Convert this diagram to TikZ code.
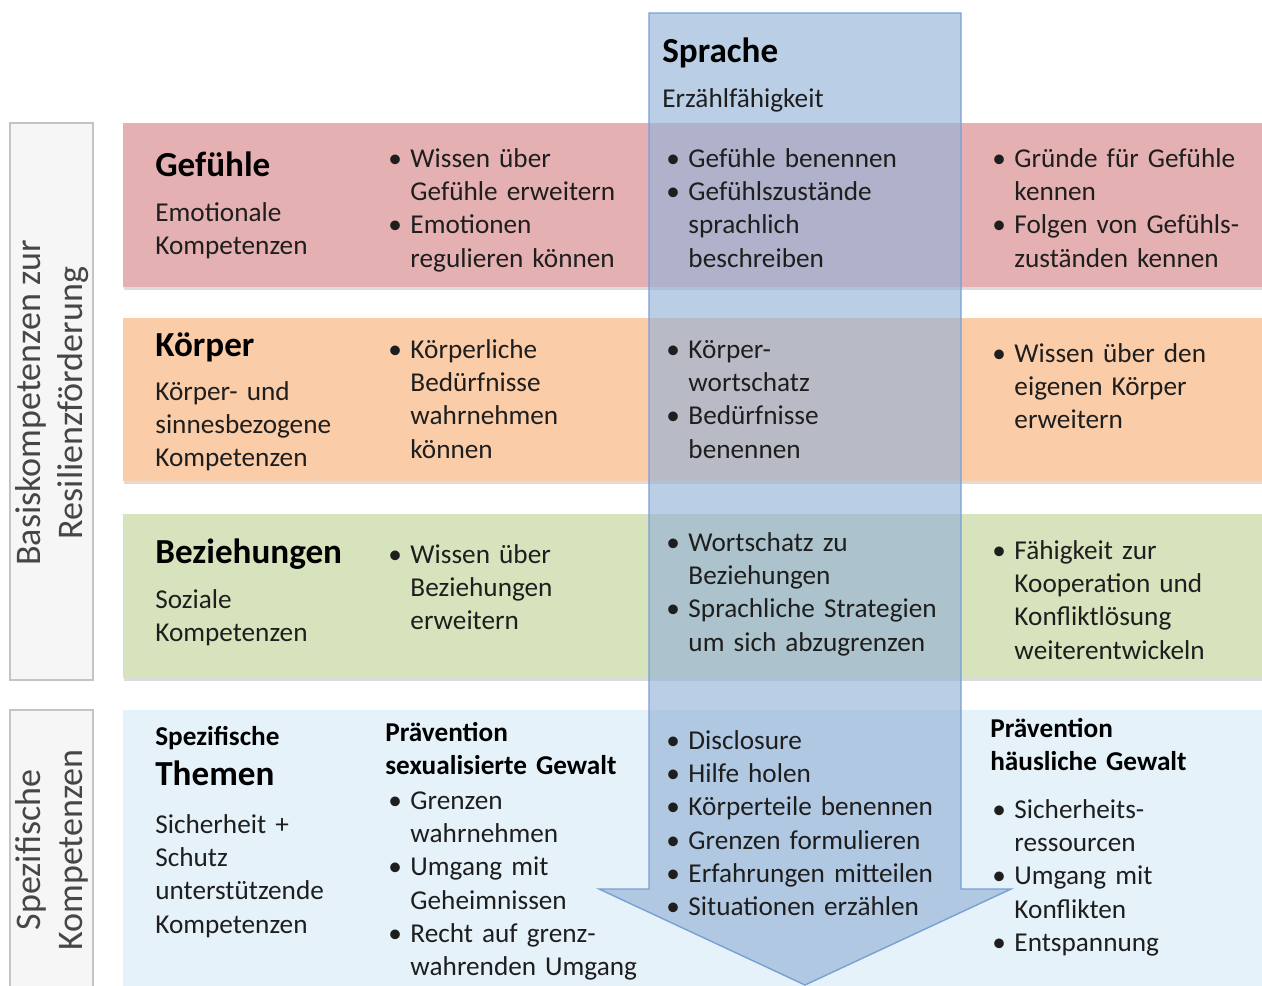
\documentclass[tikz,border=0pt]{standalone}
\usepackage{fontspec}
\setmainfont{Carlito}
\usetikzlibrary{shadows}
\definecolor{rowA}{RGB}{229,176,178}
\definecolor{rowB}{RGB}{250,204,168}
\definecolor{rowC}{RGB}{215,227,188}
\definecolor{rowD}{RGB}{230,242,250}
\definecolor{arrowfill}{RGB}{149,179,215}
\definecolor{arrowline}{RGB}{120,160,212}
\definecolor{labelfill}{RGB}{246,246,246}
\definecolor{labelline}{RGB}{196,196,196}
\definecolor{ink}{RGB}{30,30,30}
\definecolor{labelink}{RGB}{70,70,70}
\newlength\bw
\setlength\bw{12.6pt}
\newcommand\bitem[1]{\leftskip=\bw\noindent\hspace*{-\bw}\makebox[\bw][l]{\textbullet}#1\par}
\tikzset{
  rowbox/.style={draw=none, drop shadow={shadow xshift=0.6pt, shadow yshift=-1.6pt, opacity=0.28}},
  labelbox/.style={fill=labelfill, draw=labelline, line width=0.6pt},
  body/.style={anchor=base west, inner sep=0pt, text=ink, text width=7cm,
    font=\fontsize{15.5}{19}\selectfont},
  head/.style={anchor=base west, inner sep=0pt, text=black,
    font=\fontsize{20}{24}\selectfont\bfseries},
  subhead/.style={anchor=base west, inner sep=0pt, text=black, text width=7cm,
    font=\fontsize{15.5}{19}\selectfont\bfseries},
  vlabel/.style={rotate=90, align=center, inner sep=0pt, text=labelink,
    font=\fontsize{20.5}{24}\selectfont},
}
\begin{document}
\begin{tikzpicture}[x=0.02cm, y=-0.02cm]
\useasboundingbox (0,0) rectangle (1262,985);
% side label boxes
\filldraw[labelbox] (10,123) rectangle (93,680);
\filldraw[labelbox] (10,710) rectangle (93,990);
\node[vlabel] (lab1) at (52,403) {Basiskompetenzen zur\\Resilienzförderung};
\node[vlabel] (lab2) at (52,850) {Spezifische\\Kompetenzen};
% rows
\fill[rowA, rowbox] (123,123) rectangle (1262,287);
\fill[rowB, rowbox] (123,318) rectangle (1262,481);
\fill[rowC, rowbox] (123,514) rectangle (1262,678);
\fill[rowD] (123,710) rectangle (1262,990);
% arrow
\filldraw[fill=arrowfill, fill opacity=0.65, draw=arrowline, line width=0.8pt]
  (649,13) -- (961,13) -- (961,889) -- (1011,889) -- (805,985) -- (599,889) -- (649,889) -- cycle;
% Sprache
\node[head] (sprache) at (662,62) {Sprache};
\node[body] (erz) at (662,107) {Erzählfähigkeit};
% Row 1
\node[head] (gef) at (155,176) {Gefühle};
\node[body] (gefsub) at (155,221) {Emotionale\\Kompetenzen};
\node[body] (gef2) at (388,167) {\bitem{Wissen über\\Gefühle erweitern}\bitem{Emotionen\\regulieren können}};
\node[body] (gef3) at (666,167) {\bitem{Gefühle benennen}\bitem{Gefühlszustände\\sprachlich\\beschreiben}};
\node[body] (gef4) at (992,167) {\bitem{Gründe für Gefühle\\kennen}\bitem{Folgen von Gefühls-\\zuständen kennen}};
% Row 2
\node[head] (koe) at (155,356) {Körper};
\node[body] (koesub) at (155,400) {Körper- und\\sinnesbezogene\\Kompetenzen};
\node[body] (koe2) at (388,358) {\bitem{Körperliche\\Bedürfnisse\\wahrnehmen\\können}};
\node[body] (koe3) at (666,358) {\bitem{Körper-\\wortschatz}\bitem{Bedürfnisse\\benennen}};
\node[body] (koe4) at (992,362) {\bitem{Wissen über den\\eigenen Körper\\erweitern}};
% Row 3
\node[head] (bez) at (155,563) {Beziehungen};
\node[body] (bezsub) at (155,608) {Soziale\\Kompetenzen};
\node[body] (bez2) at (388,563) {\bitem{Wissen über\\Beziehungen\\erweitern}};
\node[body] (bez3) at (666,551) {\bitem{Wortschatz zu\\Beziehungen}\bitem{Sprachliche Strategien\\um sich abzugrenzen}};
\node[body] (bez4) at (992,559) {\bitem{Fähigkeit zur\\Kooperation und\\Konfliktlösung\\weiterentwickeln}};
% Row 4
\node[subhead] (spez) at (155,745) {Spezifische};
\node[head] (them) at (155,785) {Themen};
\node[body] (themsub) at (155,833) {Sicherheit +\\Schutz\\unterstützende\\Kompetenzen};
\node[subhead] (sex) at (385,741) {Prävention\\sexualisierte Gewalt};
\node[body] (sex2) at (388,809) {\bitem{Grenzen\\wahrnehmen}\bitem{Umgang mit\\Geheimnissen}\bitem{Recht auf grenz-\\wahrenden Umgang}};
\node[body] (dis) at (666,749) {\bitem{Disclosure}\bitem{Hilfe holen}\bitem{Körperteile benennen}\bitem{Grenzen formulieren}\bitem{Erfahrungen mitteilen}\bitem{Situationen erzählen}};
\node[subhead] (haus) at (990,737) {Prävention\\häusliche Gewalt};
\node[body] (haus2) at (992,818) {\bitem{Sicherheits-\\ressourcen}\bitem{Umgang mit\\Konflikten}\bitem{Entspannung}};
\end{tikzpicture}
\end{document}
